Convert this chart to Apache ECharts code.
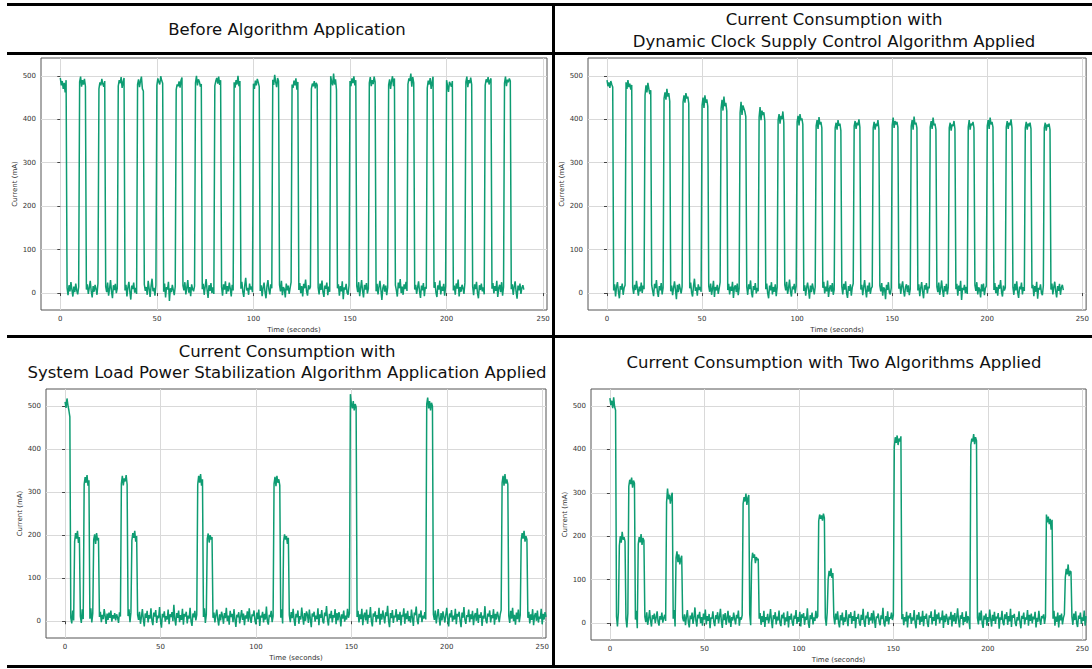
<!DOCTYPE html>
<html><head><meta charset="utf-8">
<script src="https://cdn.jsdelivr.net/npm/echarts@6/dist/echarts.min.js"></script>
<style>html,body{margin:0;padding:0;background:#fff}#c{width:1092px;height:669px}</style>
</head><body><div id="c"></div>
<script>
// ---- tick labels ----
const xTicks = [0, 50, 100, 150, 200, 250];
const yTicks = [0, 100, 200, 300, 400, 500];
const xName = 'Time (seconds)';
const yName = 'Current (mA)';

// ---- panel titles ----
const titleBefore = ['Before Algorithm Application'];
const titleDynamic = ['Current Consumption with', 'Dynamic Clock Supply Control Algorithm Applied'];
const titleStabil = ['Current Consumption with', 'System Load Power Stabilization Algorithm Application Applied'];
const titleBoth = ['Current Consumption with Two Algorithms Applied'];

// ---- series: [startTime, endTime, current values read along the segment] ----
const beforeSegments = [
 [0,3,[495,478,488,470,484,462,490]],
 [3.5,9.5,[12,-5,18,4,25,8,-8,15,2,22,6,-3,14]],
 [10,13,[486,498,475,490,480,493,476]],
 [13.5,19.5,[8,20,-2,12,28,5,-10,16,3,19,9,-4,23]],
 [20,23,[470,485,478,493,481,475,488]],
 [23.5,29.5,[15,2,24,-6,10,30,4,-12,18,7,21,0,11]],
 [30,33,[476,490,483,497,472,486,495]],
 [33.5,39.5,[6,19,-8,13,26,3,-15,17,9,24,1,12,-2]],
 [40,43,[480,492,474,488,498,470,465]],
 [43.5,49.5,[20,5,14,-4,28,10,-9,16,33,4,12,-6,18]],
 [50,53,[478,494,486,480,499,489,483]],
 [53.5,59.5,[3,22,-10,14,8,26,-18,11,2,19,7,-5,15]],
 [60,63,[468,480,476,487,473,490,496]],
 [63.5,69.5,[17,6,25,-3,12,30,1,14,-7,20,9,4,16]],
 [70,73,[484,500,478,492,487,475,481]],
 [73.5,79.5,[9,21,-4,15,32,7,-11,18,5,23,0,13,-2]],
 [80,83,[477,488,495,482,498,479,490]],
 [83.5,89.5,[14,-6,20,8,27,-2,16,4,24,10,-8,19,6]],
 [90,93,[485,473,490,480,500,476,488]],
 [93.5,99.5,[10,26,3,-9,18,35,6,12,-4,22,8,15,2]],
 [100,103,[482,470,489,478,493,485,475]],
 [103.5,109.5,[5,18,-7,13,24,2,-12,16,30,8,-3,20,11]],
 [110,113,[491,479,502,486,474,495,488]],
 [113.5,119.5,[19,4,28,-5,14,9,-10,22,6,17,-2,12,25]],
 [120,123,[480,472,489,478,494,468,486]],
 [123.5,129.5,[7,23,0,16,-8,21,11,31,4,-6,18,9,14]],
 [130,133,[470,482,476,488,471,484,479]],
 [133.5,139.5,[13,-3,22,7,29,2,-9,17,10,24,-5,15,3]],
 [140,143,[499,486,478,505,480,492,468]],
 [143.5,149.5,[11,20,-6,16,4,27,-14,13,8,21,1,-4,18]],
 [150,153,[488,476,494,483,499,478,490]],
 [153.5,159.5,[16,2,25,-7,12,30,5,-10,19,8,23,-1,10]],
 [160,163,[484,497,476,490,481,498,486]],
 [163.5,169.5,[4,21,-3,14,28,7,-16,12,20,3,17,-5,13]],
 [170,173,[479,492,470,488,499,476,494]],
 [173.5,179.5,[18,6,-8,24,11,32,0,15,-4,20,9,26,5]],
 [180,183,[481,494,488,505,475,497,484]],
 [183.5,189.5,[8,19,-2,13,27,4,-11,17,6,23,-7,14,10]],
 [190,193,[472,489,480,495,470,486,498]],
 [193.5,199.5,[12,25,1,-9,18,8,29,-3,15,5,21,-6,16]],
 [200,203,[490,477,463,486,481,475,488]],
 [203.5,209.5,[6,17,-4,22,10,31,-8,14,3,19,11,-2,24]],
 [210,213,[486,498,474,490,483,496,480]],
 [213.5,219.5,[15,-5,20,9,26,0,-12,18,7,22,4,13,-3]],
 [220,223,[478,492,485,497,480,489,494]],
 [223.5,229.5,[10,23,-1,16,5,28,-9,12,19,2,25,-6,14]],
 [230,233,[483,498,476,491,485,494,488]],
 [233.5,240,[9,20,-4,15,27,3,-13,17,6,22,-2,12,18,8]]
];

const dynamicSegments = [
 [0,3,[490,476,485,472,488,480,474]],
 [3.5,9.5,[6,20,-8,14,25,3,-12,16,8,22,-4,12,18]],
 [10,13,[485,470,490,474,482,468,479]],
 [13.5,19.5,[13,-2,19,7,28,10,-6,15,4,24,0,17,9]],
 [20,23,[455,478,462,484,470,458,467]],
 [23.5,29.5,[18,5,-7,21,11,30,2,-9,16,6,23,-3,12]],
 [30,33,[448,462,445,470,452,460,441]],
 [33.5,39.5,[4,17,-5,12,27,8,-14,19,2,21,10,-1,15]],
 [40,43,[440,455,438,460,448,452,436]],
 [43.5,49.5,[11,24,1,-8,16,33,5,13,-6,20,7,14,3]],
 [50,53,[432,450,426,455,438,446,430]],
 [53.5,59.5,[16,3,22,-4,10,28,-9,14,6,19,-2,11,25]],
 [60,63,[425,445,420,452,430,438,418]],
 [63.5,69.5,[7,21,-3,15,5,26,-11,13,18,2,22,-5,10]],
 [70,73,[415,440,410,432,425,418,406]],
 [73.5,79.5,[14,-4,20,9,29,1,-10,16,7,23,-1,12,4]],
 [80,83,[405,428,398,420,410,416,396]],
 [83.5,89.5,[9,22,0,-12,17,6,25,-3,14,3,20,-7,13]],
 [90,93,[398,412,390,408,400,418,392]],
 [93.5,99.5,[19,6,26,-2,12,31,4,-8,15,9,21,0,16]],
 [100,103,[394,408,386,412,398,402,388]],
 [103.5,109.5,[5,18,-6,13,24,7,-13,17,2,22,11,-3,14]],
 [110,113,[385,398,378,405,388,394,380]],
 [113.5,119.5,[12,26,-1,15,4,29,-9,10,18,3,23,-4,8]],
 [120,123,[380,392,376,398,385,390,374]],
 [123.5,129.5,[15,-3,21,8,27,0,-11,16,5,20,-6,13,22]],
 [130,133,[384,396,378,392,386,400,382]],
 [133.5,139.5,[8,19,-5,14,30,6,-10,17,3,24,-2,11,15]],
 [140,143,[380,394,376,390,384,398,378]],
 [143.5,149.5,[17,4,23,-6,13,9,-14,19,7,25,1,-3,12]],
 [150,153,[386,404,380,396,388,394,382]],
 [153.5,159.5,[10,22,-2,16,27,5,-8,14,20,2,18,-5,9]],
 [160,163,[384,398,376,406,388,392,380]],
 [163.5,169.5,[6,20,-7,12,25,3,-12,18,8,23,-1,15,11]],
 [170,173,[382,396,378,404,386,390,376]],
 [173.5,179.5,[14,2,24,-4,11,29,6,-9,16,4,21,-3,13]],
 [180,183,[380,392,374,388,384,396,378]],
 [183.5,189.5,[9,21,-6,17,5,28,-16,12,7,19,0,14,-2]],
 [190,193,[382,398,376,390,386,394,380]],
 [193.5,199.5,[18,5,25,-3,13,8,-10,20,4,22,-5,11,16]],
 [200,203,[385,398,378,404,388,394,382]],
 [203.5,209.5,[7,23,0,14,-6,19,10,30,3,-8,17,6,12]],
 [210,213,[382,396,378,392,386,400,380]],
 [213.5,219.5,[13,-4,21,6,27,1,-11,15,9,24,-3,14,5]],
 [220,223,[380,394,376,390,384,392,378]],
 [223.5,229.5,[11,19,-7,16,3,26,-13,12,8,20,0,-5,17]],
 [230,233,[380,392,374,388,383,390,376]],
 [233.5,240,[8,22,-3,14,26,4,-10,16,5,21,-4,13,19,7]]
];

const stabilSegments = [
 [0,2.5,[510,496,518,502,490,475]],
 [3,4.5,[8,-5,25,2]],
 [5,7.5,[185,205,192,210,182,196]],
 [8,9.5,[12,-4,28,5]],
 [10,12.5,[318,335,322,340,315,328]],
 [13,14.5,[6,30,-3,18]],
 [15,17.5,[190,202,180,205,188,194]],
 [18,29,[10,22,-2,15,5,28,12,-6,18,3,20,8,25,-1,14,6,19,2,16,9,-4,21,11]],
 [29.5,32.5,[320,338,316,332,325,340,318]],
 [33,34.5,[12,28,-2,20]],
 [35,37.5,[188,205,194,210,185,198]],
 [38,69,[15,3,22,-6,10,28,5,-12,18,8,24,-3,14,6,30,1,-9,20,11,26,-4,13,7,33,2,-15,17,9,23,-1,12,4,27,-7,16,10,21,0,38,5,-10,19,8,25,-2,14,3,29,-8,17,11,22,-5,13,6,31,0,-11,18,9,24,2,15]],
 [69.5,72,[318,338,322,342,315,330]],
 [72.5,74,[10,30,-4,15]],
 [74.5,77,[192,204,183,200,190,196]],
 [77.5,109,[8,20,-3,14,27,5,-10,16,2,22,12,-6,19,7,31,0,13,-8,24,10,17,-2,28,4,-13,15,9,21,-5,11,26,3,18,-9,14,6,23,-1,30,8,-4,16,12,25,1,-7,20,5,27,-11,13,9,22,-3,17,4,34,0,-8,15,10,24,-2,12]],
 [109.5,112.5,[320,336,314,338,322,330,316]],
 [113,114,[8,28,-5]],
 [114.5,117,[185,202,190,198,180,194]],
 [117.5,149,[14,-2,21,7,29,3,-11,17,9,25,-6,12,4,32,10,-8,19,1,23,15,-4,27,6,-14,18,11,22,-1,13,5,30,-9,16,8,26,0,-5,20,12,35,3,-10,17,7,24,-3,14,9,28,-7,19,2,21,11,-12,16,6,25,-1,13,4,29,8,18]],
 [149.5,152.5,[528,505,495,512,490,505,498]],
 [153,189,[10,24,-3,16,5,29,-9,13,20,2,27,-6,15,8,33,0,-12,18,11,23,-2,14,6,31,-8,17,4,25,10,-5,21,12,36,1,-14,19,7,26,-4,13,9,28,-1,16,3,22,-10,15,11,30,-6,18,5,24,0,12,-3,27,8,-11,20,14,34,2,-7,17,9,25,-2,13,6,21,4]],
 [189.5,192.5,[505,520,495,512,490,508,500]],
 [193,228.5,[16,3,25,-5,12,28,7,-10,19,2,23,10,-3,15,31,6,-12,18,9,26,-1,13,4,29,-7,17,11,22,0,-14,20,8,33,3,-6,14,10,27,-2,16,5,24,-9,12,19,1,30,-4,15,8,21,-11,13,6,35,2,-5,18,11,25,-3,14,7,28,-8,17,4,22,12,-2,16,26]],
 [229,232,[322,338,315,342,320,330,318]],
 [232.5,238.5,[12,-4,24,6,31,0,15,-8,20,5,27,-2,14]],
 [239,242,[188,205,192,210,185,198,190]],
 [242.5,252,[8,22,-5,16,3,28,-9,13,19,1,25,-3,11,6,29,-7,17,4,21,10]]
];

const bothSegments = [
 [0,3,[518,502,512,495,520,498,490]],
 [3.5,4.5,[15,-8,25]],
 [5,8,[178,200,185,210,192,198,188]],
 [8.5,9.5,[10,-10,22]],
 [10,13,[315,330,320,335,312,328,322]],
 [13.5,14.5,[8,28,-12]],
 [15,18,[182,198,186,205,180,196,190]],
 [18.5,29.5,[14,2,25,-4,10,30,6,-8,18,9,22,0,13,27,3,-6,16,8,24,1,12,19,5]],
 [30,33,[278,310,285,296,275,292,300]],
 [33.5,34.5,[10,30,-8]],
 [35,38,[150,165,140,158,135,148,155]],
 [38.5,70,[12,4,20,-5,15,30,3,-10,17,9,24,-2,13,36,6,-8,19,11,26,0,14,-6,22,8,31,-3,16,5,21,-12,13,10,27,2,-7,18,9,25,-1,15,33,4,-11,20,7,23,-4,12,28,1,17,-9,14,6,24,10,-3,19,11,29,-6,13,8,18]],
 [70.5,73.5,[275,290,280,298,272,288,295]],
 [74,74.5,[20,-5]],
 [75,78.5,[140,162,150,158,138,152,145,148]],
 [79,110,[10,23,-4,16,2,28,-9,14,7,21,-1,12,32,5,-12,18,9,25,-3,15,6,29,0,-7,19,11,24,-5,13,4,27,-10,16,8,22,1,-6,17,10,30,-2,14,3,26,-8,20,12,23,-4,15,7,34,0,-11,18,9,24,-3,13,5,28,11,16]],
 [110.5,113.5,[235,250,240,248,236,252,242]],
 [114,115,[12,-6,25]],
 [115.5,118,[100,120,108,126,104,115]],
 [118.5,150,[15,-3,22,8,27,1,-10,18,6,24,-5,13,3,30,9,-7,20,12,25,-2,16,5,28,-12,14,10,21,0,-6,19,7,33,2,-9,17,11,26,-4,13,6,23,-1,29,8,-11,15,12,22,3,-5,18,9,35,0,-8,16,4,27,-3,14,10,24,7,18]],
 [150.5,154,[405,428,415,432,410,425,418,430]],
 [154.5,190.5,[9,21,-5,14,4,26,-10,17,11,23,-2,13,6,30,1,-12,19,8,25,-4,15,3,28,-7,16,10,22,0,-9,18,12,27,-3,14,5,31,-6,20,9,24,-1,13,7,29,-11,17,2,21,11,-4,15,8,26,-8,19,4,23,-2,12,34,6,-10,18,10,25,-5,14,3,27,0,16,9,-14]],
 [191,194,[410,425,418,435,412,428,420]],
 [194.5,230.5,[12,-3,24,6,29,0,-11,17,8,22,-6,14,3,31,10,-8,19,5,26,-2,15,11,23,-13,13,7,28,1,-5,20,9,25,-4,16,4,33,-9,18,12,21,0,-7,14,6,27,2,-12,17,10,24,-3,13,8,30,-6,19,5,22,-1,15,9,26,-10,12,3,28,7,-4,16,11,20,-2,14]],
 [231,234,[250,232,245,228,240,215,238]],
 [234.5,240.5,[10,28,-6,15,3,24,-10,18,6,22,-3,12,20]],
 [241,244,[105,125,112,135,108,120,118]],
 [244.5,252,[14,-4,22,7,27,0,-9,17,10,24,-2,13,5,29,-6,16]]
];

function toPoints(segs) {
  const out = [];
  segs.forEach(function (s) {
    const t0 = s[0], t1 = s[1], v = s[2], n = v.length;
    for (let j = 0; j < n; j++) {
      const t = n > 1 ? t0 + (t1 - t0) * j / (n - 1) : t0;
      out.push([t, v[j]]);
    }
  });
  return out;
}

const FONT = 'DejaVu Sans';
const TFONT = "'DejaVu Sans', sans-serif";
const GREEN = '#0e9c72';

const grids = [
  {left: 41, top: 58, width: 506, height: 252},
  {left: 588, top: 58, width: 506, height: 252},
  {left: 46, top: 389, width: 500, height: 249},
  {left: 591, top: 389, width: 503, height: 251}
].map(function (g) { return Object.assign({show: true, borderColor: '#555', borderWidth: 1, backgroundColor: 'transparent'}, g); });

const yRanges = [[-39, 541], [-39, 541], [-39, 540], [-39, 539]];

function xAx(i) {
  return {
    type: 'value', gridIndex: i, min: -10, max: 252,
    name: xName, nameLocation: 'middle', nameGap: 16,
    nameTextStyle: {fontSize: 7, color: '#333', fontFamily: FONT},
    axisLine: {show: false},
    axisTick: {show: true, customValues: xTicks, length: 3, lineStyle: {color: '#444'}},
    axisLabel: {customValues: xTicks, fontSize: 7, color: '#333', margin: 5, fontFamily: FONT},
    splitLine: {show: true, lineStyle: {color: '#d9d9d9', width: 1}}
  };
}
function yAx(i) {
  return {
    type: 'value', gridIndex: i, min: yRanges[i][0], max: yRanges[i][1],
    name: yName, nameLocation: 'middle', nameGap: 22, nameRotate: 90,
    nameTextStyle: {fontSize: 7, color: '#333', fontFamily: FONT},
    axisLine: {show: false},
    axisTick: {show: true, customValues: yTicks, length: 3, lineStyle: {color: '#444'}},
    axisLabel: {customValues: yTicks, fontSize: 7, color: '#333', margin: 5, fontFamily: FONT},
    splitLine: {show: true, lineStyle: {color: '#d9d9d9', width: 1}}
  };
}

const allSegs = [beforeSegments, dynamicSegments, stabilSegments, bothSegments];
const series = allSegs.map(function (segs, i) {
  return {
    type: 'line', xAxisIndex: i, yAxisIndex: i, data: toPoints(segs),
    showSymbol: false, symbol: 'none', animation: false, clip: true,
    lineStyle: {color: GREEN, width: 1.5}
  };
});

function txt(s, x, y) {
  return {type: 'text', x: x, y: y, silent: true,
    style: {text: s, font: '16.5px ' + TFONT, fill: '#111', textAlign: 'center', textVerticalAlign: 'middle'}};
}
function bar(x, y, w, h) {
  return {type: 'rect', shape: {x: x, y: y, width: w, height: h}, style: {fill: '#000'}, silent: true};
}

const graphics = [
  bar(7, 3, 1085, 3), bar(7, 52, 1085, 3), bar(7, 335, 1085, 3), bar(7, 665, 1085, 3), bar(552, 3, 3, 665),
  txt(titleBefore[0], 287, 29),
  txt(titleDynamic[0], 834, 19), txt(titleDynamic[1], 834, 41),
  txt(titleStabil[0], 287, 351), txt(titleStabil[1], 287, 372),
  txt(titleBoth[0], 834, 362)
];

const chart = echarts.init(document.getElementById('c'), null, {renderer: 'svg', width: 1092, height: 669});
chart.setOption({
  backgroundColor: '#fff',
  animation: false,
  grid: grids,
  xAxis: [0, 1, 2, 3].map(xAx),
  yAxis: [0, 1, 2, 3].map(yAx),
  series: series,
  graphic: graphics
});
</script></body></html>
